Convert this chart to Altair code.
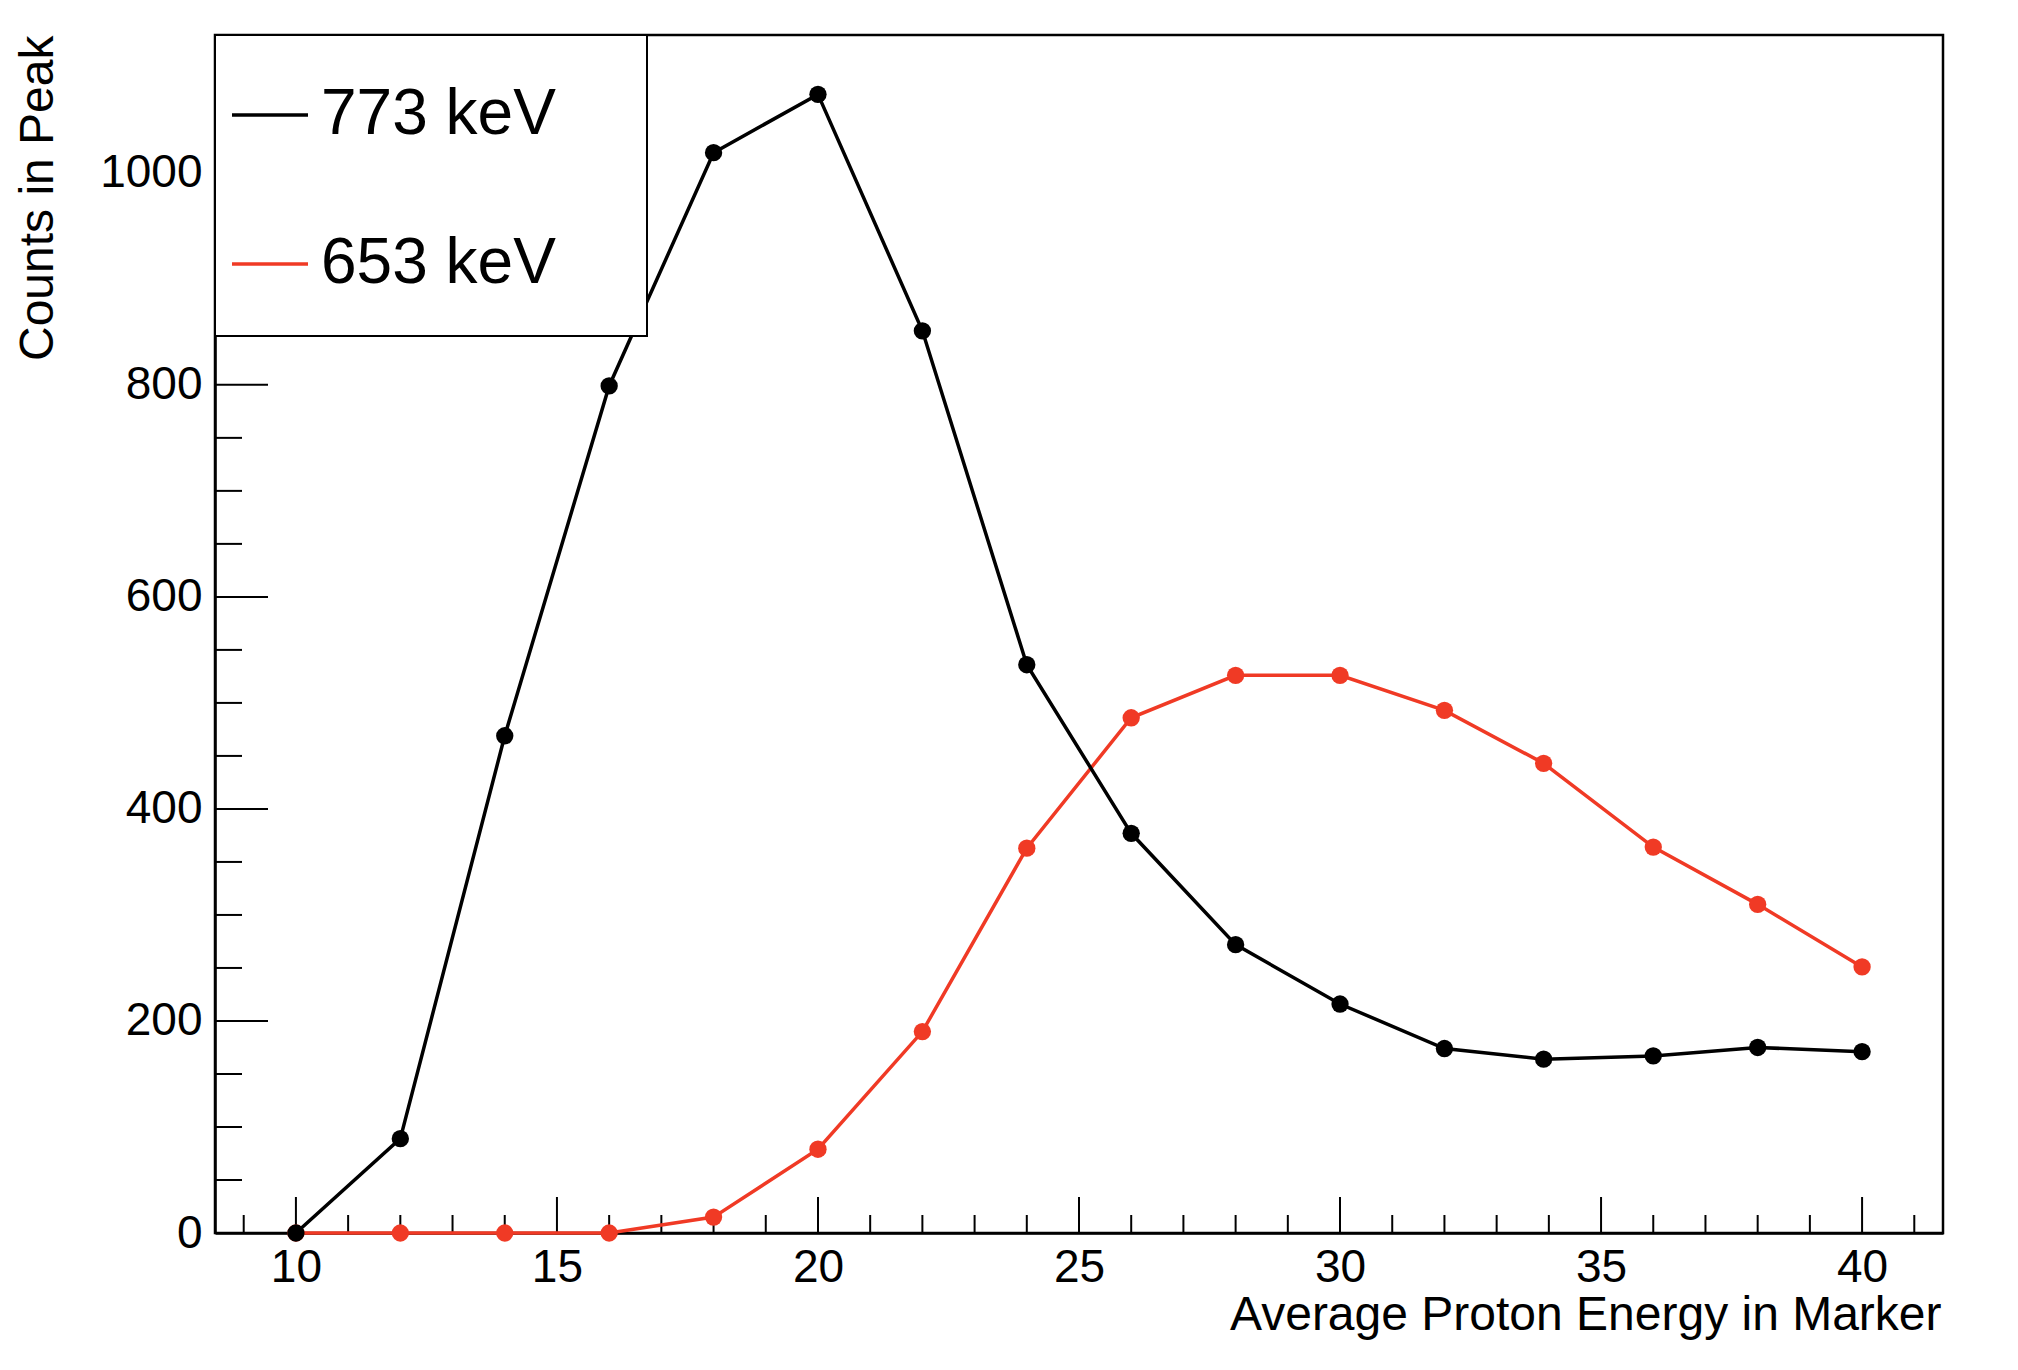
import altair as alt
import pandas as pd

# ---- data ----
energy_773 = [10, 12, 14, 16, 18, 20, 22, 24, 26, 28, 30, 32, 33.9, 36, 38, 40]
counts_773 = [0, 89, 469, 799, 1019, 1074, 851, 536, 377, 272, 216, 174, 164, 167, 175, 171]

energy_653 = [10, 12, 14, 16, 18, 20, 22, 24, 26, 28, 30, 32, 33.9, 36, 38, 40]
counts_653 = [0, 0, 0, 0, 15, 79, 190, 363, 486, 526, 526, 493, 443, 364, 310, 251]

series_names = ["773 keV", "653 keV"]
series_colors = ["#000000", "#f03a25"]

x_major = [10, 15, 20, 25, 30, 35, 40]
x_minor = [9, 11, 12, 13, 14, 16, 17, 18, 19, 21, 22, 23, 24, 26, 27, 28, 29,
           31, 32, 33, 34, 36, 37, 38, 39, 41]
y_major = [0, 200, 400, 600, 800, 1000]
y_minor = [50, 100, 150, 250, 300, 350, 450, 500, 550, 650, 700, 750, 850, 900,
           950, 1050, 1100]

W, H = 1728, 1198
FONT = "Liberation Sans"

df = pd.concat([
    pd.DataFrame({"energy": energy_773, "counts": counts_773, "series": series_names[0]}),
    pd.DataFrame({"energy": energy_653, "counts": counts_653, "series": series_names[1]}),
])

xscale = alt.Scale(domain=[8.45, 41.55], nice=False, zero=False)
yscale = alt.Scale(domain=[0, 1130], nice=False, zero=False)

x_axis = alt.Axis(
    title="Average Proton Energy in Marker", values=x_major, format="d",
    tickSize=0, labelPadding=12, labelFontSize=46, labelFont=FONT,
    labelColor="black", domainColor="black", domainWidth=2.5, grid=False,
    titleFont=FONT, titleFontSize=48, titleFontWeight="normal", titleColor="black",
    titleAlign="right", titleBaseline="alphabetic", titleX=1726, titleY=96,
)
y_axis = alt.Axis(
    title="Counts in Peak", values=y_major, format="d",
    tickSize=0, labelPadding=13, labelFontSize=46, labelFont=FONT,
    labelColor="black", domainColor="black", domainWidth=2.5, grid=False,
    titleFont=FONT, titleFontSize=48, titleFontWeight="normal", titleColor="black",
    titleAngle=270, titleAlign="right", titleBaseline="alphabetic",
    titleX=-163, titleY=0,
)

x_enc = alt.X("energy:Q", scale=xscale, axis=x_axis)
y_enc = alt.Y("counts:Q", scale=yscale, axis=y_axis)
color_enc = alt.Color(
    "series:N",
    scale=alt.Scale(domain=series_names, range=series_colors),
    legend=alt.Legend(
        title="\u00a0", titleOrient="right", titleFontSize=10, titlePadding=51,
        orient="none", legendX=0, legendY=0,
        fillColor="white", strokeColor="black", padding=40,
        symbolType="stroke", symbolSize=5776, symbolStrokeWidth=3.5,
        symbolOffset=-25,
        labelFont=FONT, labelFontSize=64, labelColor="black", labelOffset=11,
        rowPadding=77, labelLimit=600,
    ),
)

base = alt.Chart(df).encode(x=x_enc, y=y_enc, color=color_enc)

red_line = base.transform_filter(alt.datum.series == series_names[1]).mark_line(strokeWidth=3.5)
red_pts = base.transform_filter(alt.datum.series == series_names[1]).mark_circle(size=300, opacity=1)
blk_line = base.transform_filter(alt.datum.series == series_names[0]).mark_line(strokeWidth=3.5)
blk_pts = base.transform_filter(alt.datum.series == series_names[0]).mark_circle(size=300, opacity=1)

def xticks(vals, length):
    return alt.Chart(pd.DataFrame({"energy": vals})).mark_rule(color="black", strokeWidth=2).encode(
        x=alt.X("energy:Q", scale=xscale, axis=x_axis),
        y=alt.value(H), y2=alt.value(H - length),
    )

def yticks(vals, length):
    return alt.Chart(pd.DataFrame({"counts": vals})).mark_rule(color="black", strokeWidth=2).encode(
        y=alt.Y("counts:Q", scale=yscale, axis=y_axis),
        x=alt.value(0), x2=alt.value(length),
    )

chart = alt.layer(
    xticks(x_major, 36), xticks(x_minor, 18),
    yticks(y_major, 53), yticks(y_minor, 27),
    red_line, red_pts, blk_line, blk_pts,
).properties(
    width=W, height=H,
    autosize=alt.AutoSizeParams(type="none"),
    padding={"left": 207, "top": 27, "right": 67, "bottom": 120},
    background="white",
).configure_view(
    stroke="black", strokeWidth=2.5,
).configure_legend(
    strokeWidth=2,
)

chart.save("out.html", embed_options={"renderer": "svg", "actions": False})
